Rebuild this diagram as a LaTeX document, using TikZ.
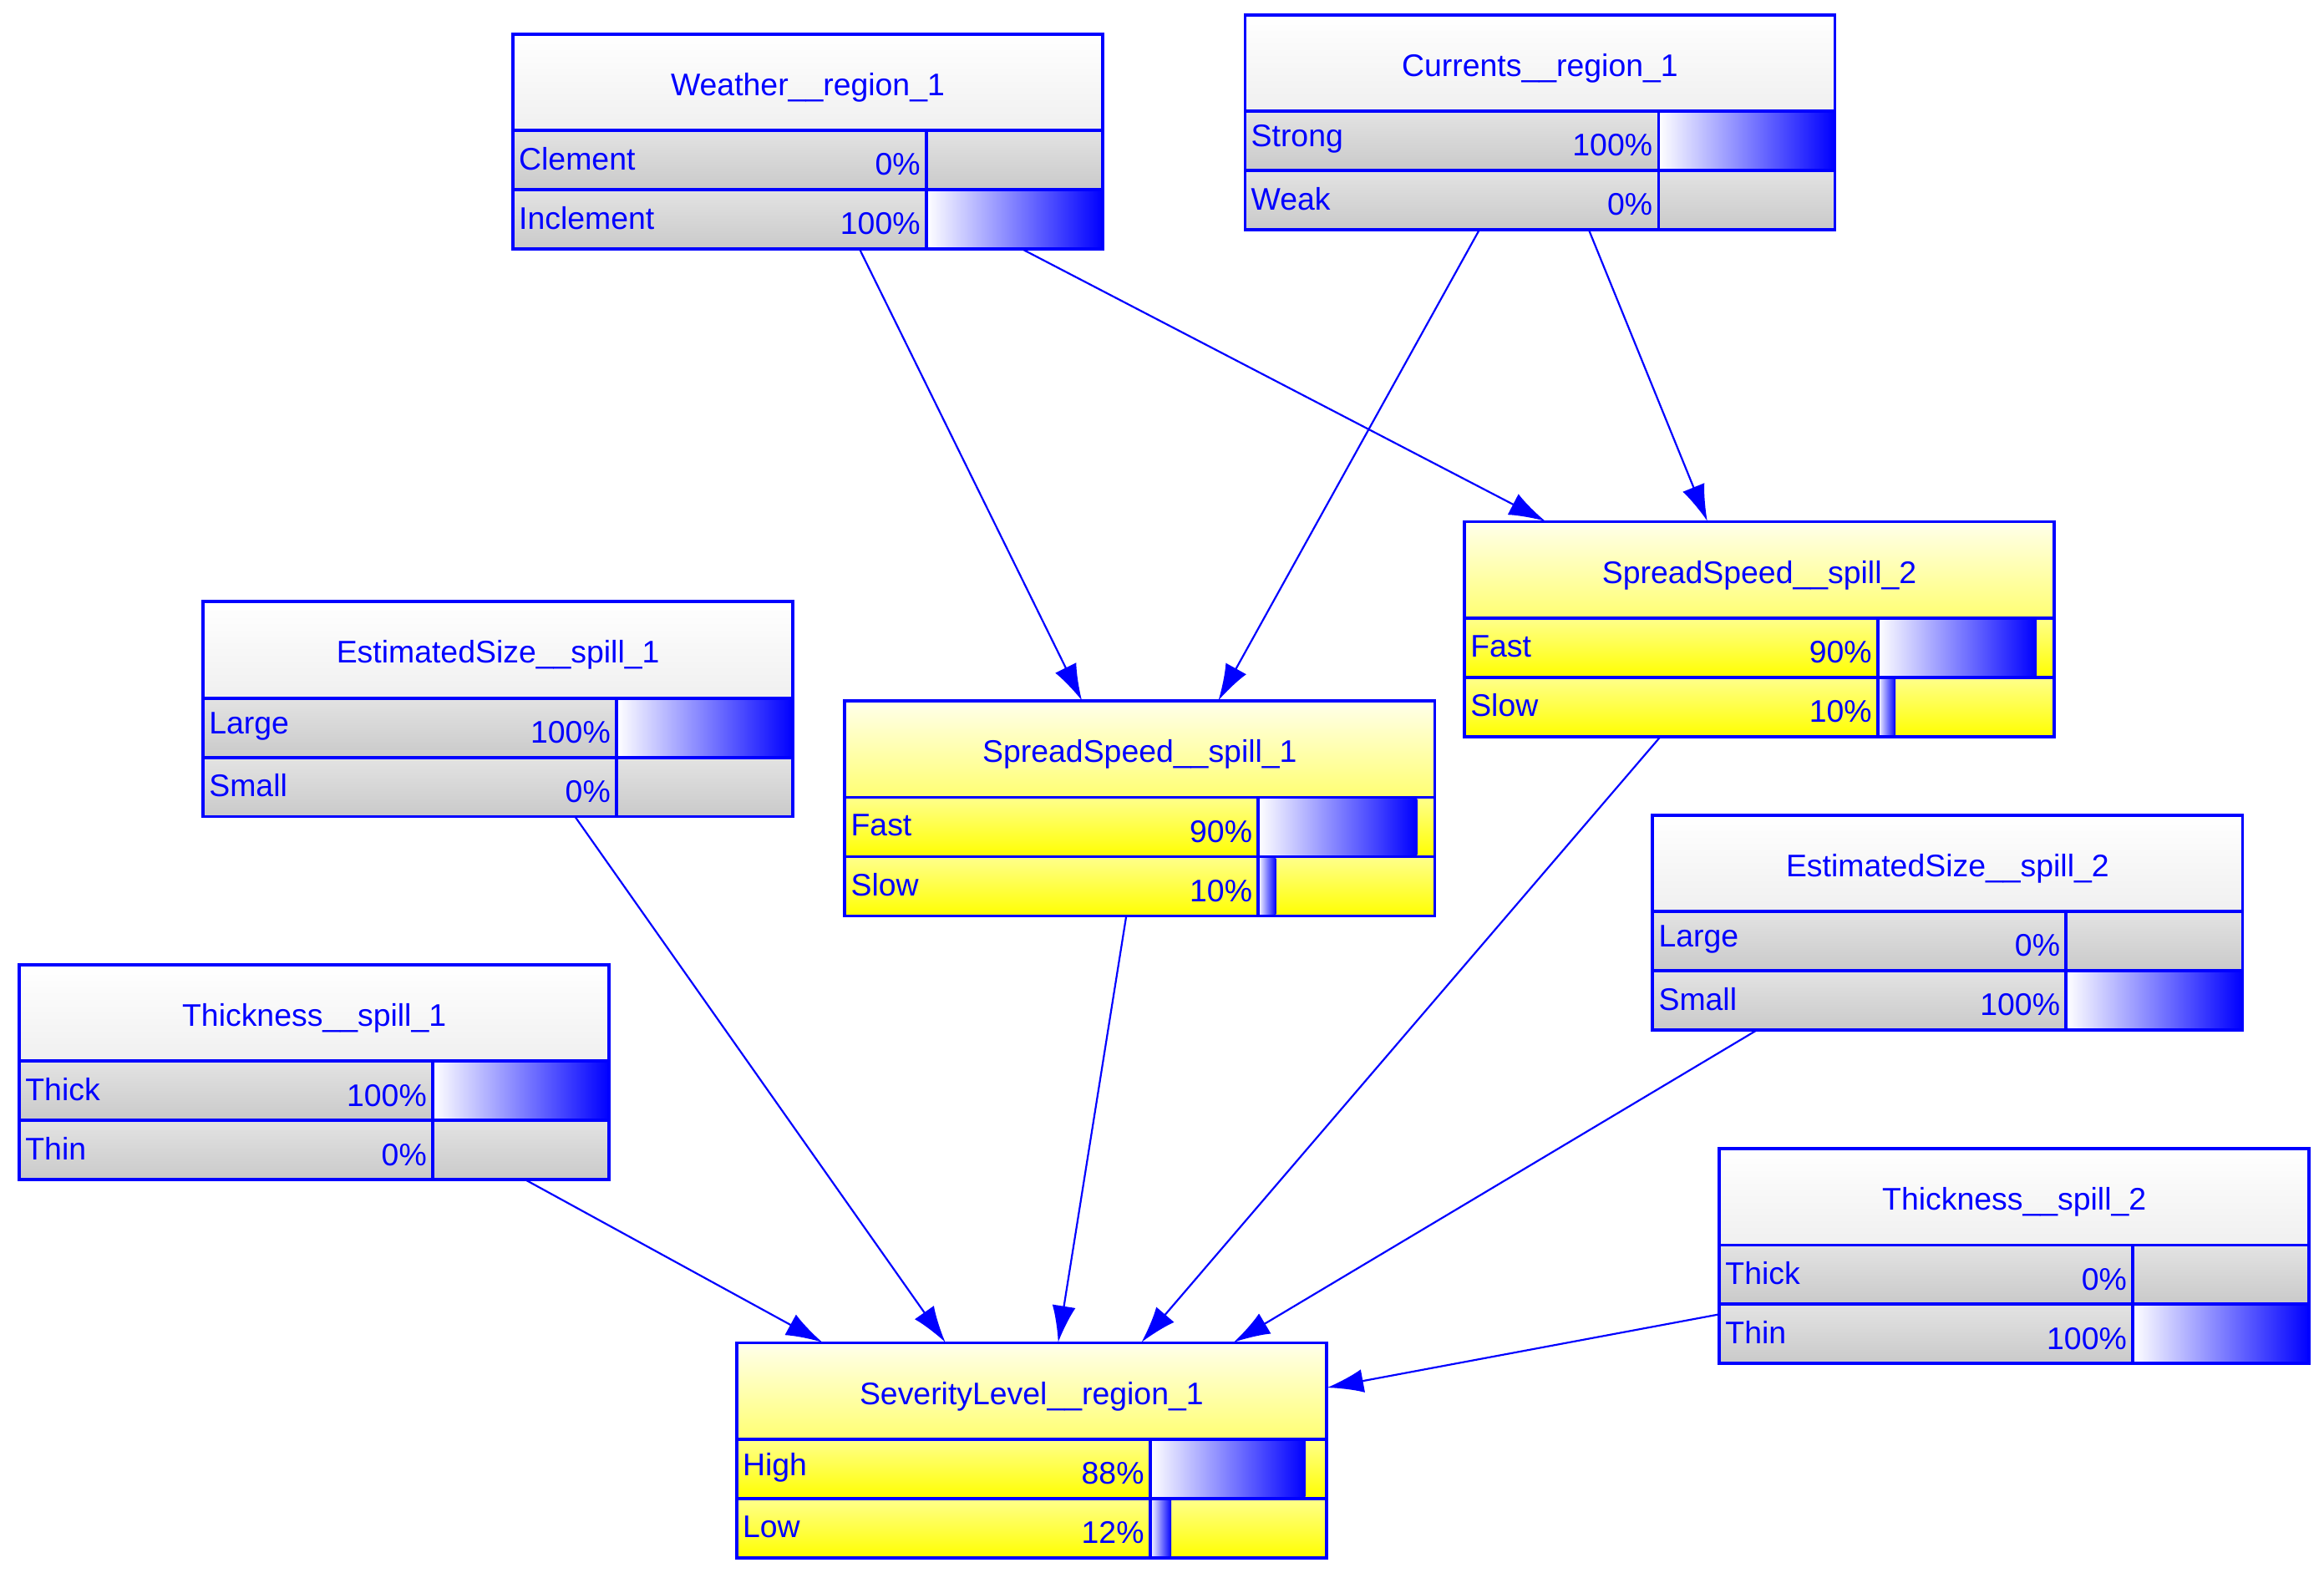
\documentclass[tikz,border=0pt]{standalone}
\usepackage{fontspec}
\setmainfont{Liberation Sans}
\usetikzlibrary{calc,arrows.meta}
\colorlet{grayT}{white}
\colorlet{grayM}{gray!12}
\colorlet{grayR}{gray!22}
\colorlet{grayB}{gray!42}
\colorlet{yelT}{yellow!8}
\colorlet{yelM}{yellow!55}
\colorlet{yelR}{yellow!45}
\colorlet{yelB}{yellow}
\tikzset{
  arr/.style={blue, line width=0.7pt, -{Latex[length=14pt,width=9pt]}},
  lbl/.style={text=blue, font=\fontsize{12}{14}\selectfont, inner sep=1pt},
}
% box: name, left, top, title, kind, state1, p1, state2, p2
\newcommand{\bnnode}[9]{%
  \begin{scope}[shift={(#2,#3)}]
    \shade[top color=#5T, bottom color=#5M] (0,0) rectangle (398,65);
    \shade[top color=#5R, bottom color=#5B] (0,65) rectangle (398,105);
    \shade[top color=#5R, bottom color=#5B] (0,105) rectangle (398,145);
    \ifnum#7>0 \shade[left color=white, right color=blue] (279,66) rectangle ({279+1.19*#7},104);\fi
    \ifnum#9>0 \shade[left color=white, right color=blue] (279,106) rectangle ({279+1.19*#9},144);\fi
    \draw[blue, line width=1.2pt] (0,0) rectangle (398,145) (0,65) -- (398,65) (0,105) -- (398,105) (279,65) -- (279,145);
    \node[lbl] at (199,36) {#4};
    \node[lbl, anchor=west] at (2,84) {#6};
    \node[lbl, anchor=east] at (277,88) {#7\%};
    \node[lbl, anchor=west] at (2,124) {#8};
    \node[lbl, anchor=east] at (277,128) {#9\%};
    \node[inner sep=0, minimum width=7.96cm, minimum height=2.9cm] (#1) at (199,72.5) {};
  \end{scope}}
\begin{document}
\begin{tikzpicture}[x=0.02cm, y=-0.02cm]
  \useasboundingbox[fill=white] (0,0) rectangle (1568,1068);

  \bnnode{wea}{346}{23}{Weather\_\_region\_1}{gray}{Clement}{0}{Inclement}{100}
  \bnnode{cur}{840}{10}{Currents\_\_region\_1}{gray}{Strong}{100}{Weak}{0}
  \bnnode{ss2}{988}{352}{SpreadSpeed\_\_spill\_2}{yel}{Fast}{90}{Slow}{10}
  \bnnode{es1}{137}{406}{EstimatedSize\_\_spill\_1}{gray}{Large}{100}{Small}{0}
  \bnnode{ss1}{570}{473}{SpreadSpeed\_\_spill\_1}{yel}{Fast}{90}{Slow}{10}
  \bnnode{es2}{1115}{550}{EstimatedSize\_\_spill\_2}{gray}{Large}{0}{Small}{100}
  \bnnode{th1}{13}{651}{Thickness\_\_spill\_1}{gray}{Thick}{100}{Thin}{0}
  \bnnode{th2}{1160}{775}{Thickness\_\_spill\_2}{gray}{Thick}{0}{Thin}{100}
  \bnnode{sev}{497}{906}{SeverityLevel\_\_region\_1}{yel}{High}{88}{Low}{12}

  \draw[arr] ($(wea.south west)!0.588!(wea.south east)$) -- ($(ss1.north west)!0.402!(ss1.north east)$);
  \draw[arr] ($(wea.south west)!0.864!(wea.south east)$) -- ($(ss2.north west)!0.138!(ss2.north east)$);
  \draw[arr] ($(cur.south west)!0.397!(cur.south east)$) -- ($(ss1.north west)!0.633!(ss1.north east)$);
  \draw[arr] ($(cur.south west)!0.583!(cur.south east)$) -- ($(ss2.north west)!0.412!(ss2.north east)$);

  \draw[arr] ($(th1.south west)!0.859!(th1.south east)$) -- ($(sev.north west)!0.146!(sev.north east)$);
  \draw[arr] ($(es1.south west)!0.631!(es1.south east)$) -- ($(sev.north west)!0.354!(sev.north east)$);
  \draw[arr] ($(ss1.south west)!0.477!(ss1.south east)$) -- ($(sev.north west)!0.545!(sev.north east)$);
  \draw[arr] ($(ss2.south west)!0.332!(ss2.south east)$) -- ($(sev.north west)!0.686!(sev.north east)$);
  \draw[arr] ($(es2.south west)!0.176!(es2.south east)$) -- ($(sev.north west)!0.842!(sev.north east)$);
  \draw[arr] ($(th2.north west)!0.77!(th2.south west)$) -- ($(sev.north east)!0.21!(sev.south east)$);
\end{tikzpicture}
\end{document}
